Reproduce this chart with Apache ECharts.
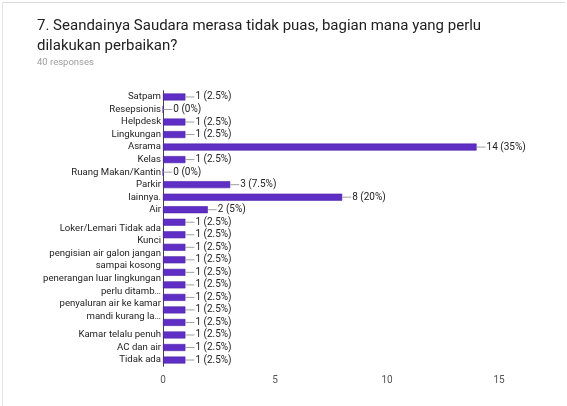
<!DOCTYPE html>
<html>
<head>
<meta charset="utf-8">
<script src="https://cdn.jsdelivr.net/npm/echarts@6/dist/echarts.min.js"></script>
<style>
html,body{margin:0;padding:0;background:#fff;}
#chart{width:567px;height:406px;}
</style>
</head>
<body>
<div id="chart"></div>
<script>
const titleText = '7. Seandainya Saudara merasa tidak puas, bagian mana yang perlu\ndilakukan perbaikan?';
const subtitleText = '40 responses';
const totalResponses = 40;
const categories = [
  'Satpam', 'Resepsionis', 'Helpdesk', 'Lingkungan', 'Asrama', 'Kelas',
  'Ruang Makan/Kantin', 'Parkir', 'lainnya.', 'Air',
  '', 'Loker/Lemari Tidak ada\nKunci', '', 'pengisian air galon jangan\nsampai kosong',
  '', 'penerangan luar lingkungan\nperlu ditamb…', '', 'penyaluran air ke kamar\nmandi kurang la…',
  '', 'Kamar telalu penuh', 'AC dan air', 'Tidak ada'
];
const values = [1, 0, 1, 1, 14, 1, 0, 3, 8, 2, 1, 1, 1, 1, 1, 1, 1, 1, 1, 1, 1, 1];
const xTicks = [0, 5, 10, 15];

const chart = echarts.init(document.getElementById('chart'), null, {renderer: 'canvas'});
const font = 'Roboto, Arial, sans-serif';

chart.setOption({
  backgroundColor: '#ffffff',
  animation: false,
  graphic: [
    {type: 'line', shape: {x1: 2, y1: 2.5, x2: 565, y2: 2.5}, style: {stroke: '#dcdcdc', lineWidth: 1}},
    {type: 'line', shape: {x1: 2.5, y1: 2, x2: 2.5, y2: 406}, style: {stroke: '#e4e4e4', lineWidth: 1}}
  ],
  title: [
    {
      text: titleText,
      left: 32, top: 11,
      textStyle: {fontFamily: font, fontSize: 15, fontWeight: 'normal', color: '#212121', lineHeight: 20}
    },
    {
      text: subtitleText,
      left: 32, top: 53,
      textStyle: {fontFamily: font, fontSize: 9.5, fontWeight: 'normal', color: '#9e9e9e'}
    }
  ],
  grid: {left: 163, right: 68, top: 90.7, bottom: 39.7, containLabel: false},
  xAxis: {
    type: 'value',
    min: xTicks[0], max: xTicks[xTicks.length - 1], interval: 5,
    axisLine: {show: false},
    axisTick: {show: false},
    splitLine: {show: false},
    axisLabel: {fontFamily: font, fontSize: 10, color: '#555', margin: 9}
  },
  yAxis: {
    type: 'category',
    inverse: true,
    data: categories,
    axisLine: {show: true, lineStyle: {color: '#444', width: 1}},
    axisTick: {show: false},
    axisLabel: {
      fontFamily: font, fontSize: 9.6, color: '#222', margin: 2, lineHeight: 12.5,
      interval: 0
    }
  },
  series: [{
    type: 'bar',
    data: values,
    barWidth: 7,
    itemStyle: {color: '#5f2fc5', borderColor: '#4b22a6', borderWidth: 0.6},
    label: {
      show: true,
      position: 'right',
      distance: 0,
      formatter: function (p) {
        const v = p.value;
        return '{l|}{v|' + v + ' (' + (v * 100 / totalResponses) + '%)}';
      },
      rich: {
        l: {width: 9, height: 1, backgroundColor: '#a0a0a0'},
        v: {fontFamily: font, fontSize: 10, color: '#222', padding: [0, 0, 0, 1]}
      }
    }
  }]
});
</script>
</body>
</html>
